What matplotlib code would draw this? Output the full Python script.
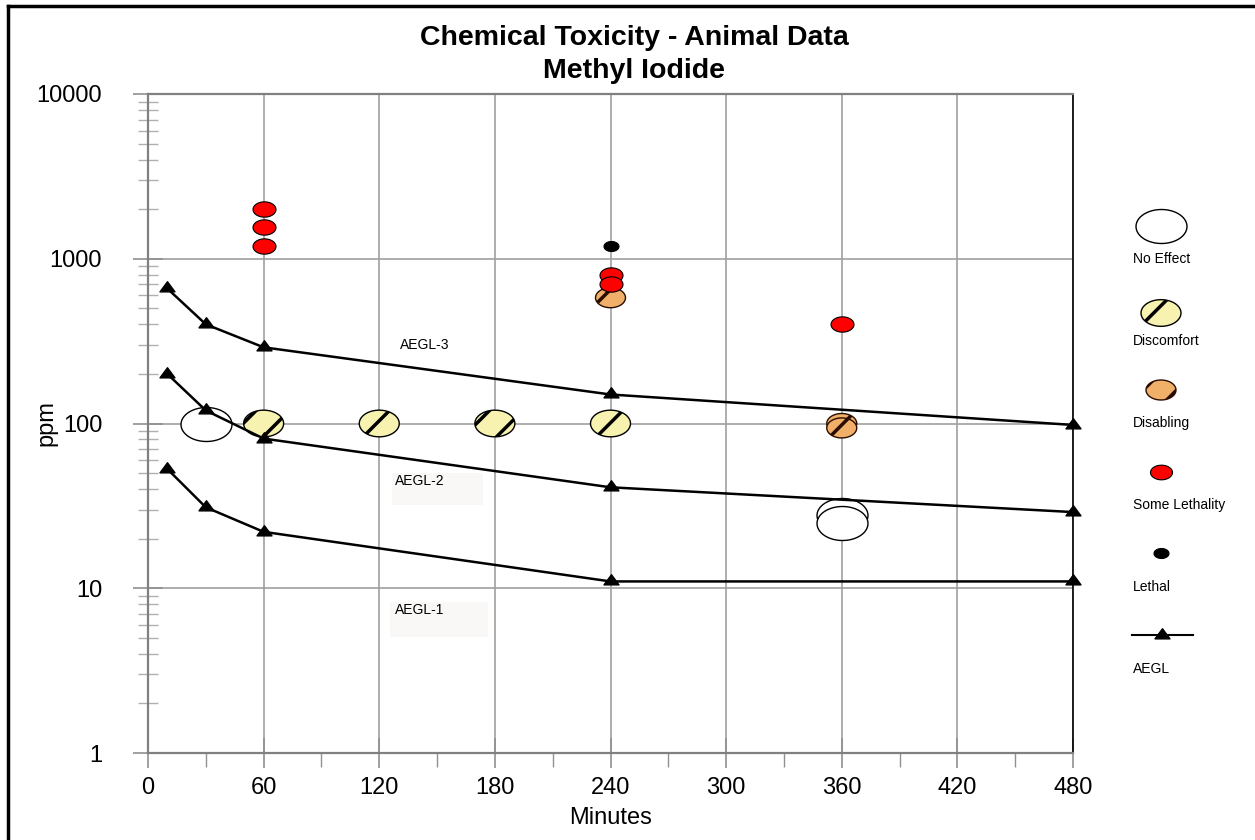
import numpy as np
import matplotlib
matplotlib.use("Agg")
import matplotlib.pyplot as plt
from matplotlib.path import Path
from matplotlib.patches import Rectangle

plt.rcParams['font.family'] = ['Liberation Sans', 'DejaVu Sans']
plt.rcParams['hatch.linewidth'] = 2.5

# ---------------- data ----------------
aegl_minutes = [10, 30, 60, 240, 480]
aegl3 = [660, 400, 290, 150, 98]
aegl2 = [200, 120, 81, 41, 29]
aegl1 = [53, 31, 22, 11, 11]

no_effect_x = [30, 360, 360]
no_effect_y = [100, 28, 25]

discomfort_x = [60, 120, 180, 240]
discomfort_y = [100, 100, 100, 100]

disabling_x = [240, 360, 360]
disabling_y = [580, 100, 94]

some_leth_x = [60, 60, 60, 240, 240, 360]
some_leth_y = [2000, 1560, 1200, 800, 700, 400]

lethal_x = [240]
lethal_y = [1200]

x_ticks = [0, 60, 120, 180, 240, 300, 360, 420, 480]
y_ticks = [1, 10, 100, 1000, 10000]
y_tick_labels = ['1', '10', '100', '1000', '10000']

legend_labels = ['No Effect', 'Discomfort', 'Disabling', 'Some Lethality', 'Lethal', 'AEGL']

# ---------------- figure ----------------
W, H = 1255, 840
fig = plt.figure(figsize=(W / 100, H / 100), dpi=100)

def px(x0, y0, x1, y1):
    return [x0 / W, 1 - y1 / H, (x1 - x0) / W, (y1 - y0) / H]

# overlay in pixel coordinates (legend, label boxes, border)
lax = fig.add_axes([0, 0, 1, 1], facecolor='none')
lax.set_xlim(0, W)
lax.set_ylim(H, 0)
lax.axis('off')

ax = fig.add_axes(px(148, 94, 1073, 753))
ax.set_facecolor('none')

# ellipse marker (wider than tall)
t = np.linspace(0, 2 * np.pi, 60)
ell = Path(np.column_stack([np.cos(t), np.sin(t) / 1.5]), closed=True)
tri = Path([(-1, -0.45), (1, -0.45), (0, 0.9), (-1, -0.45)], closed=True)

def msz(pxw):
    return (pxw * 0.72) ** 2

ax.set_yscale('log')
ax.set_xlim(0, 480)
ax.set_ylim(1, 10000)

ax.grid(True, which='major', color='#a0a0a0', linewidth=1.2)
ax.set_axisbelow(True)

for yy in (aegl3, aegl2, aegl1):
    ax.plot(aegl_minutes, yy, color='black', linewidth=1.8, marker=tri,
            markersize=15 * 0.72, markerfacecolor='black', zorder=4,
            clip_on=False)

ax.scatter(no_effect_x, no_effect_y, s=msz(51), marker=ell, facecolor='white',
           edgecolor='black', linewidth=1.0, zorder=3)
ax.scatter(discomfort_x, discomfort_y, s=msz(40), marker=ell, facecolor='#f7f2b0',
           edgecolor='black', linewidth=1.0, hatch='/', zorder=3)
ax.scatter(disabling_x, disabling_y, s=msz(30), marker=ell, facecolor='#f0b06a',
           edgecolor='#2a0d00', linewidth=1.0, hatch='/', zorder=5)
ax.scatter(some_leth_x, some_leth_y, s=msz(23), marker=ell, facecolor='#ff0000',
           edgecolor='black', linewidth=0.8, zorder=6)
ax.scatter(lethal_x, lethal_y, s=msz(15), marker=ell, facecolor='black',
           edgecolor='black', linewidth=0.8, zorder=6)

# AEGL labels (faint boxes behind AEGL-2 / AEGL-1)
lax.add_patch(Rectangle((392, 473), 91, 32, facecolor='#f9f8f6', edgecolor='none', zorder=0))
lax.add_patch(Rectangle((390, 602), 98, 35, facecolor='#f9f8f6', edgecolor='none', zorder=0))
ax.text(131, 300, 'AEGL-3', fontsize=10, ha='left', va='center')
ax.text(128, 45, 'AEGL-2', fontsize=10, ha='left', va='center')
ax.text(128, 7.4, 'AEGL-1', fontsize=10, ha='left', va='center')

# ticks
ax.set_xticks(x_ticks)
ax.set_xticklabels([str(v) for v in x_ticks], fontsize=17)
ax.set_xticks(np.arange(30, 480, 60), minor=True)
ax.set_yticks(y_ticks)
ax.set_yticklabels(y_tick_labels, fontsize=17)
ax.tick_params(axis='both', which='major', direction='inout', length=22,
               color='#909090', width=1.2)
ax.tick_params(axis='x', which='major', pad=6)
ax.tick_params(axis='y', which='major', pad=22)
ax.tick_params(axis='x', which='minor', direction='out', length=10,
               color='#909090', width=1.0)
ax.tick_params(axis='y', which='minor', direction='inout', length=14,
               color='#b0b0b0', width=1.0)
ax.yaxis.set_minor_locator(matplotlib.ticker.LogLocator(base=10, subs=np.arange(2, 10)))
ax.yaxis.set_minor_formatter(matplotlib.ticker.NullFormatter())

for s in ('left', 'bottom', 'top'):
    ax.spines[s].set_color('#808080')
    ax.spines[s].set_linewidth(1.6)
ax.spines['right'].set_color('black')
ax.spines['right'].set_linewidth(1.2)

ax.set_xlabel('Minutes', fontsize=17, labelpad=6)
ax.set_ylabel('ppm', fontsize=17, labelpad=-15)

fig.text(634 / W, 1 - 38 / H, 'Chemical Toxicity - Animal Data', fontsize=20.5,
         fontweight='bold', ha='center', va='center')
fig.text(634 / W, 1 - 71 / H, 'Methyl Iodide', fontsize=20.5,
         fontweight='bold', ha='center', va='center')

# ---------------- legend ----------------
leg_marker_y = [226, 313, 390, 472, 553, 635]
leg_text_y = [259, 341, 423, 505, 587, 669]
leg_styles = [
    dict(s=msz(51), facecolor='white', edgecolor='black', linewidth=1.0),
    dict(s=msz(40), facecolor='#f7f2b0', edgecolor='black', linewidth=1.0, hatch='/'),
    dict(s=msz(30), facecolor='#f0b06a', edgecolor='#2a0d00', linewidth=1.0, hatch='/'),
    dict(s=msz(22), facecolor='#ff0000', edgecolor='black', linewidth=0.8),
    dict(s=msz(15), facecolor='black', edgecolor='black', linewidth=0.8),
]
for i, lab in enumerate(legend_labels):
    if i < 5:
        lax.scatter([1161], [leg_marker_y[i]], marker=ell, **leg_styles[i])
    else:
        lax.plot([1132, 1193], [leg_marker_y[i]] * 2, color='black', linewidth=1.5)
        lax.plot([1162], [leg_marker_y[i]], marker=tri, markersize=15 * 0.72,
                 color='black')
    lax.text(1133, leg_text_y[i], lab, fontsize=10, ha='left', va='center')

# figure border
lax.plot([8, W], [6, 6], color='black', linewidth=2.5, clip_on=False)
lax.plot([8, 8], [6, H], color='black', linewidth=2.5, clip_on=False)

fig.savefig('out.png', dpi=100)
